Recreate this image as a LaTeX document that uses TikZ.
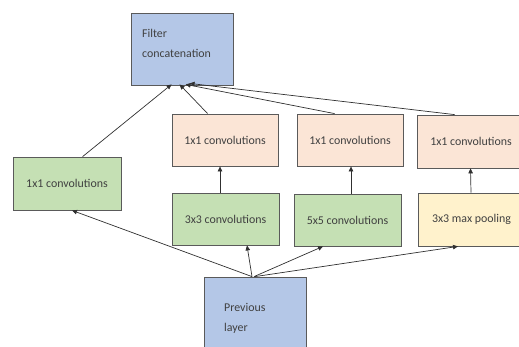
\documentclass[tikz,border=0pt]{standalone}
\usepackage{fontspec}
\setmainfont{Carlito}
\usetikzlibrary{arrows.meta}
\definecolor{cblue}{HTML}{B4C7E7}
\definecolor{cgreen}{HTML}{C5E0B4}
\definecolor{cpeach}{HTML}{FBE5D6}
\definecolor{cyellow}{HTML}{FFF2CC}
\definecolor{cborder}{HTML}{5A5A5A}
\definecolor{ctext}{HTML}{404040}
\definecolor{cline}{HTML}{303030}
\begin{document}
\begin{tikzpicture}[x=1pt,y=-1pt,
  box/.style={draw=cborder,line width=0.8pt,inner sep=0pt,anchor=center,
    text=ctext,font=\fontsize{11.9}{14}\selectfont},
  lbl/.style={text=ctext,font=\fontsize{11.9}{20}\selectfont,align=left,inner sep=0pt,anchor=north west},
  conn/.style={draw=cline,line width=0.7pt},
  arr/.style={conn,-{Triangle[length=5pt,width=4.5pt]}}]
\useasboundingbox (0,0) rectangle (519,346);
% boxes
\node[box,fill=cblue,minimum width=102pt,minimum height=72pt] (F) at (182,49) {};
\node[lbl] (Ft) at (142,29) {Filter\\concatenation};
\node[box,fill=cgreen,minimum width=108pt,minimum height=53pt] (L) at (67,183.5) {1x1 convolutions};
\node[box,fill=cpeach,minimum width=106pt,minimum height=52pt] (C1) at (225,140) {1x1 convolutions};
\node[box,fill=cpeach,minimum width=106pt,minimum height=52pt] (C2) at (350,140) {1x1 convolutions};
\node[box,fill=cpeach,minimum width=108pt,minimum height=53pt] (C3) at (471,141.5) {1x1 convolutions};
\node[box,fill=cgreen,minimum width=107pt,minimum height=52pt] (G1) at (225.5,219) {3x3 convolutions};
\node[box,fill=cgreen,minimum width=107pt,minimum height=52pt] (G2) at (347.5,220) {5x5 convolutions};
\node[box,fill=cyellow,minimum width=107pt,minimum height=53pt] (P) at (471.5,219.5) {3x3 max pooling};
\node[box,fill=cblue,minimum width=102pt,minimum height=75pt] (Prev) at (255,314.5) {};
\node[lbl] (Pt) at (224,303) {Previous\\layer};
% connectors to filter concatenation
\draw[arr] ([xshift=70pt]L.north west) -- ([xshift=41pt,yshift=1pt]F.south west);
\draw[arr] ([xshift=36pt]C1.north west) -- ([xshift=49pt,yshift=1pt]F.south west);
\draw[arr] ([xshift=38pt]C2.north west) -- ([xshift=55pt,yshift=1pt]F.south west);
\draw[arr] ([xshift=38pt]C3.north west) -- ([xshift=59pt,yshift=2pt]F.south west);
% vertical arrows
\draw[arr] ([xshift=-5.5pt]G1.north) -- ([xshift=-5pt]C1.south);
\draw[arr] ([xshift=3.5pt]G2.north) -- ([xshift=1pt]C2.south);
\draw[arr] ([xshift=-0.5pt]P.north) -- ([xshift=-0.5pt]C3.south);
% from previous layer
\draw[arr] ([xshift=-3pt]Prev.north) -- ([xshift=5pt]L.south);
\draw[arr] ([xshift=-3pt]Prev.north) -- ([xshift=21.5pt]G1.south);
\draw[arr] ([xshift=-1pt]Prev.north) -- ([xshift=-24.5pt]G2.south);
\draw[arr] ([xshift=0pt]Prev.north) -- ([xshift=-13.5pt]P.south);
\end{tikzpicture}
\end{document}
